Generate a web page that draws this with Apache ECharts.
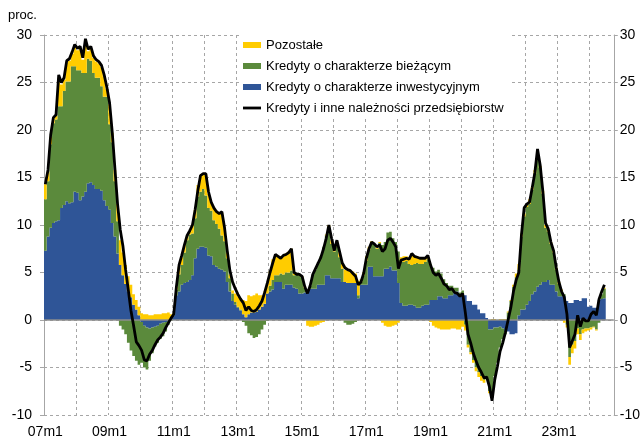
<!DOCTYPE html>
<html>
<head>
<meta charset="utf-8">
<script src="https://cdn.jsdelivr.net/npm/echarts@6/dist/echarts.min.js"></script>
<style>
html,body{margin:0;padding:0;background:#fff;}
#chart{width:643px;height:439px;}
</style>
</head>
<body>
<div id="chart"></div>
<script>
// Monthly axis: 2007m1 .. 2024m9 (data up to 2024m6)
const startYear = 2007;
const monthCount = 213;
const categories = [];
for (let k = 0; k < monthCount; k++) {
  const yy = startYear + Math.floor(k / 12);
  categories.push(String(yy % 100).padStart(2, '0') + 'm' + (k % 12 + 1));
}

// Contributions (pp) - investment loans
const investment = [
  7.3, 8.8, 9.7, 10.2, 10.4, 10.5, 11.8, 12.1, 12.5, 12.3, 12.4, 13.5,
  13.4, 12.6, 13.0, 13.5, 14.4, 14.5, 14.2, 13.8, 13.8, 13.6, 12.6, 12.0,
  11.6, 10.2, 8.8, 7.0, 5.8, 4.7, 3.8, 3.0, 2.4, 1.6, 1.1, 0.5,
  -0.2, -0.6, -0.8, -0.9, -0.8, -0.7, -0.6, -0.4, -0.3, -0.2, -0.1, 0.2,
  0.5, 2.6, 3.0, 3.7, 3.9, 4.0, 4.2, 4.7, 6.5, 7.5, 7.7, 7.7,
  7.6, 6.8, 6.7, 5.8, 5.6, 5.4, 5.3, 5.1, 4.0, 3.0, 2.0, 1.6,
  1.3, 1.0, 0.6, 0.3, 0.6, 0.8, 0.8, 0.9, 1.1, 1.4, 1.7, 2.8,
  3.0, 3.2, 4.0, 4.0, 4.0, 3.3, 3.7, 3.7, 3.7, 3.4, 3.3, 2.8,
  2.8, 2.9, 3.0, 3.3, 3.3, 3.3, 3.7, 3.7, 3.7, 4.7, 4.7, 4.4,
  4.4, 4.4, 4.4, 4.0, 4.0, 3.9, 3.9, 3.9, 3.9, 2.3, 3.7, 3.7,
  3.7, 5.6, 5.6, 4.6, 4.6, 4.6, 4.6, 5.4, 5.4, 5.6, 5.2, 5.2,
  3.9, 1.8, 1.5, 1.5, 1.6, 1.6, 1.5, 1.3, 1.3, 1.5, 1.6, 1.6,
  2.1, 2.1, 2.1, 2.5, 2.5, 2.3, 2.3, 2.6, 2.6, 3.0, 3.0, 2.7,
  2.6, 2.6, 2.0, 2.0, 1.6, 1.6, 1.1, 0.7, 0.7, 0.2, -1.0, -1.0,
  -0.8, -0.8, -0.7, -0.9, -1.2, -1.2, -1.5, -1.5, -1.4, 0.5, 1.1, 1.1,
  1.6, 2.0, 2.7, 3.0, 3.5, 3.7, 4.0, 4.0, 4.2, 3.7, 3.7, 3.0,
  2.5, 2.5, 2.5, 2.0, 1.8, 1.8, 2.1, 2.1, 2.0, 2.3, 2.3, 1.4,
  1.5, 1.3, 1.3, 2.1, 2.2, 2.3
];

// Contributions (pp) - working capital loans
const current = [
  5.4, 5.8, 8.8, 10.5, 10.7, 12.0, 10.7, 12.0, 12.6, 12.8, 14.3, 13.2,
  12.9, 13.7, 13.0, 12.5, 13.1, 12.8, 11.8, 11.7, 11.7, 11.0, 10.9, 11.5,
  9.0, 8.5, 5.8, 3.4, -0.6, -1.0, -1.5, -2.4, -3.2, -3.8, -4.3, -4.7,
  -4.3, -4.4, -4.4, -3.4, -2.7, -2.1, -1.8, -1.6, -1.4, -1.0, -0.4, -0.1,
  0.1, 0.6, 1.8, 2.1, 3.2, 4.4, 4.8, 4.4, 4.2, 5.5, 5.8, 6.1,
  5.5, 5.0, 4.8, 4.7, 4.5, 4.2, 3.6, 3.2, 2.5, 1.4, 0.8, 0.3,
  0.1, 0.1, -0.2, -0.6, -1.4, -1.6, -1.9, -1.8, -1.5, -1.0, -0.5, -0.1,
  0.6, 1.0, 0.7, 0.7, 0.9, 1.5, 1.3, 1.3, 1.5, 1.3, 1.5, 1.9,
  1.7, 0.5, 0.1, 0.3, 1.5, 2.0, 2.4, 3.0, 4.0, 4.2, 5.0, 3.6,
  2.8, 3.3, 2.2, 1.4, -0.3, -0.5, -0.5, -0.4, -0.2, 0.3, 0.3, 1.0,
  2.5, 1.8, 2.4, 3.3, 2.9, 3.5, 3.3, 2.8, 3.8, 3.7, 3.4, 3.0,
  3.3, 4.5, 4.6, 4.7, 4.3, 4.2, 4.4, 4.7, 4.6, 4.4, 4.5, 4.8,
  3.8, 3.4, 3.0, 2.8, 2.4, 2.0, 1.6, 1.0, 1.0, 0.4, 0.4, 0.2,
  0.5, -0.5, -2.6, -3.4, -4.2, -5.0, -5.5, -5.9, -6.3, -6.0, -6.5, -6.8,
  -5.1, -3.7, -2.2, -1.1, -0.3, 0.8, 2.0, 3.5, 4.5, 4.8, 7.7, 9.8,
  10.3, 10.2, 11.0, 12.4, 14.0, 12.3, 9.3, 5.7, 5.1, 4.3, 3.4, 2.3,
  1.3, 0.5, 0.2, -0.5, -3.9, -2.6, -2.2, -0.9, -1.5, -1.0, -0.9, -0.9,
  -0.8, -0.7, -1.0, -0.3, 0.5, 1.0
];

// Contributions (pp) - other receivables
const other = [
  1.6, 1.0, 0.8, 0.5, 0.4, 3.0, 2.3, 1.2, 2.0, 2.2, 1.3, 2.1,
  2.1, 2.3, 1.4, 3.4, 0.8, 1.3, 1.6, 1.7, 1.5, 2.0, 2.1, 0.8,
  2.1, 1.0, 1.2, 1.8, 2.6, 2.4, 2.0, 1.6, 1.3, 1.1, 1.0, 0.9,
  0.7, 0.6, 0.6, 0.5, 0.5, 0.6, 0.6, 0.6, 0.7, 0.7, 0.8, 0.4,
  0.1, 0.3, 0.8, 0.8, 0.8, 0.4, 0.3, 0.9, 0.9, 1.2, 1.7, 1.6,
  2.3, 1.5, 0.9, 1.3, 1.3, 1.6, 2.4, 1.4, 0.6, 0.4, 0.3, 0.9,
  1.1, 1.2, 1.5, 1.7, 2.0, 1.7, 1.8, 1.9, 1.5, 1.2, 1.3, 1.0,
  1.5, 2.2, 2.2, 2.0, 1.8, 1.9, 2.0, 2.2, 2.3, 0.2, 0.1, 0.1,
  0.1, 0.1, -0.6, -0.7, -0.7, -0.6, -0.5, -0.3, -0.2, 0.1, 0.3, 0.4,
  0.3, 0.6, 0.5, 0.5, 1.3, 1.3, 1.3, 1.2, 1.0, 1.5, 0.3, 0.3,
  0.5, 0.3, 0.3, 0.1, 0.1, 0.1, -0.3, -0.6, -0.7, -0.7, -0.6, -0.5,
  -0.3, 0.3, 0.6, 0.5, 0.6, 1.2, 0.8, 0.7, 0.7, 0.6, 0.4, 0.2,
  -0.2, -0.6, -0.8, -0.9, -1.0, -1.0, -1.0, -1.0, -0.9, -0.9, -1.0, -1.0,
  -0.7, -0.6, -0.3, -0.2, -0.3, -0.4, -0.5, -0.5, -0.3, -0.2, -0.2, 0.1,
  0.1, 0.0, 0.1, 0.1, 0.1, 0.1, 0.1, 0.2, 0.4, 0.6, 0.3, 0.3,
  0.3, 0.5, 0.3, 0.4, 0.3, 0.2, 0.3, 0.3, 0.2, 0.2, 0.2, 0.2,
  0.2, 0.2, -0.3, -0.3, -0.8, -0.9, -0.8, -0.6, -0.6, -0.4, -0.3, -0.2,
  -0.2, -0.1, -0.1, 0.0, 0.0, 0.1
];

// Total corporate loans and receivables, y/y %
const total = [
  14.3, 15.8, 19.5, 21.3, 21.6, 25.8, 25.0, 25.5, 27.3, 27.5, 28.2, 29.0,
  28.6, 28.8, 27.6, 29.6, 28.5, 28.8, 27.8, 27.4, 27.2, 26.8, 25.8, 24.5,
  22.9, 19.8, 16.0, 12.2, 9.5, 7.8, 5.3, 3.2, 1.0, -0.6, -2.3, -2.7,
  -3.2, -4.2, -4.3, -3.6, -3.2, -2.6, -2.1, -1.8, -1.4, -0.8, -0.3, 0.2,
  0.6, 3.5, 5.8, 6.8, 7.9, 8.9, 9.4, 10.0, 11.6, 13.6, 15.2, 15.4,
  15.4, 13.5, 12.4, 11.8, 11.4, 11.2, 11.4, 9.7, 7.3, 5.2, 4.0, 3.3,
  2.7, 2.2, 1.8, 1.0, 1.4, 1.0, 0.9, 1.1, 1.5, 2.0, 2.9, 3.9,
  5.0, 6.0, 6.9, 6.7, 6.5, 6.8, 6.9, 7.1, 7.5, 5.0, 4.8, 4.8,
  4.6, 3.5, 2.8, 3.6, 4.8, 5.4, 6.0, 6.6, 7.5, 8.6, 10.0, 8.6,
  7.3, 8.4, 7.2, 6.0, 5.5, 5.3, 5.2, 4.9, 4.6, 3.7, 4.0, 4.9,
  6.5, 7.5, 8.2, 8.0, 7.7, 7.9, 7.2, 7.5, 8.4, 8.6, 8.2, 7.7,
  5.4, 6.3, 6.4, 6.5, 6.4, 7.0, 6.7, 6.6, 6.5, 6.5, 6.5, 6.8,
  5.8, 5.0, 4.7, 4.9, 4.4, 3.8, 3.6, 3.2, 3.3, 2.9, 2.8, 2.5,
  2.8, 0.8, -1.5, -2.4, -3.5, -4.3, -5.0, -5.5, -6.1, -6.0, -7.0, -8.5,
  -6.3, -4.9, -3.3, -2.4, -1.3, 0.0, 1.3, 3.0, 4.2, 5.0, 9.0, 11.8,
  12.2, 12.4, 13.9, 15.5, 18.0, 16.3, 13.5, 10.2, 9.6, 8.2, 7.3, 5.5,
  4.0, 3.0, 2.4, 0.6, -2.9, -2.2, -1.5, 0.5, -0.7, 0.2, -0.1, -0.1,
  0.6, 0.9, 0.5, 2.2, 3.0, 3.7
];

const yMin = -10, yMax = 30, yStep = 5;

const FONT = '"Liberation Sans", Arial, sans-serif';
const GRID_COLOR = '#a6a6a6';
const COLORS = {inv: '#2f5597', cur: '#5b8a3c', oth: '#ffcc00'};

const chart = echarts.init(document.getElementById('chart'), null, {renderer: 'canvas'});

const yAxisBase = {
  type: 'value',
  min: yMin,
  max: yMax,
  interval: yStep,
  axisLine: {show: true, lineStyle: {color: GRID_COLOR, width: 1}},
  axisTick: {show: true, length: 4, lineStyle: {color: GRID_COLOR}},
  axisLabel: {color: '#000', fontSize: 14, fontFamily: FONT}
};

// stacked monthly bars; large mode draws each series as one filled path,
// so neighbouring months join without hairline gaps
function barSeries(name, data, color, extra) {
  return Object.assign({
    name: name,
    type: 'bar',
    stack: 'k',
    data: data,
    large: true,
    largeThreshold: 50,
    barCategoryGap: '0%',
    itemStyle: {color: color}
  }, extra || {});
}

chart.setOption({
  animation: false,
  backgroundColor: '#fff',
  textStyle: {fontFamily: FONT},
  grid: {left: 44, right: 26, top: 35, bottom: 21, containLabel: false},
  graphic: [{
    type: 'text', left: 8, top: 9,
    style: {text: 'proc.', fontSize: 13, fontFamily: FONT, fill: '#000'}
  }],
  legend: {
    orient: 'vertical',
    left: 240, top: 35,
    padding: [3, 6, 3, 3],
    backgroundColor: '#fff',
    itemWidth: 18, itemHeight: 6, itemGap: 7,
    symbolKeepAspect: true,
    textStyle: {fontSize: 13, fontFamily: FONT, color: '#000', lineHeight: 14},
    data: [
      {name: 'Pozostałe', icon: 'rect'},
      {name: 'Kredyty o charakterze bieżącym', icon: 'rect'},
      {name: 'Kredyty o charakterze inwestycyjnym', icon: 'rect'},
      {name: 'Kredyty i inne należności przedsiębiorstw', icon: 'path://M0,0H18V2.8H0Z'}
    ]
  },
  xAxis: {
    type: 'category',
    data: categories,
    boundaryGap: true,
    axisLine: {show: false},
    axisTick: {show: false},
    axisLabel: {
      color: '#000', fontSize: 14, fontFamily: FONT, margin: 10,
      interval: (i) => i % 24 === 0
    },
    splitLine: {
      show: true,
      interval: (i) => i % 12 === 0,
      lineStyle: {color: GRID_COLOR, type: [3, 3], width: 1}
    }
  },
  yAxis: [
    Object.assign({}, yAxisBase, {
      position: 'left',
      axisLabel: Object.assign({}, yAxisBase.axisLabel, {margin: 12}),
      splitLine: {show: true, lineStyle: {color: GRID_COLOR, type: [3, 3], width: 1}}
    }),
    Object.assign({}, yAxisBase, {
      position: 'right',
      axisLabel: Object.assign({}, yAxisBase.axisLabel, {margin: 6}),
      splitLine: {show: false}
    })
  ],
  series: [
    barSeries('Kredyty o charakterze inwestycyjnym', investment, COLORS.inv, {
      markLine: {
        silent: true, symbol: 'none', z: 4,
        label: {show: false},
        lineStyle: {color: '#8c8c8c', width: 1.5, type: 'solid'},
        data: [{yAxis: 0}]
      }
    }),
    barSeries('Kredyty o charakterze bieżącym', current, COLORS.cur),
    barSeries('Pozostałe', other, COLORS.oth),
    {
      name: 'Kredyty i inne należności przedsiębiorstw',
      type: 'line', data: total, z: 10,
      symbol: 'none',
      lineStyle: {color: '#000', width: 2.8},
      itemStyle: {color: '#000'}
    }
  ]
});
</script>
</body>
</html>
